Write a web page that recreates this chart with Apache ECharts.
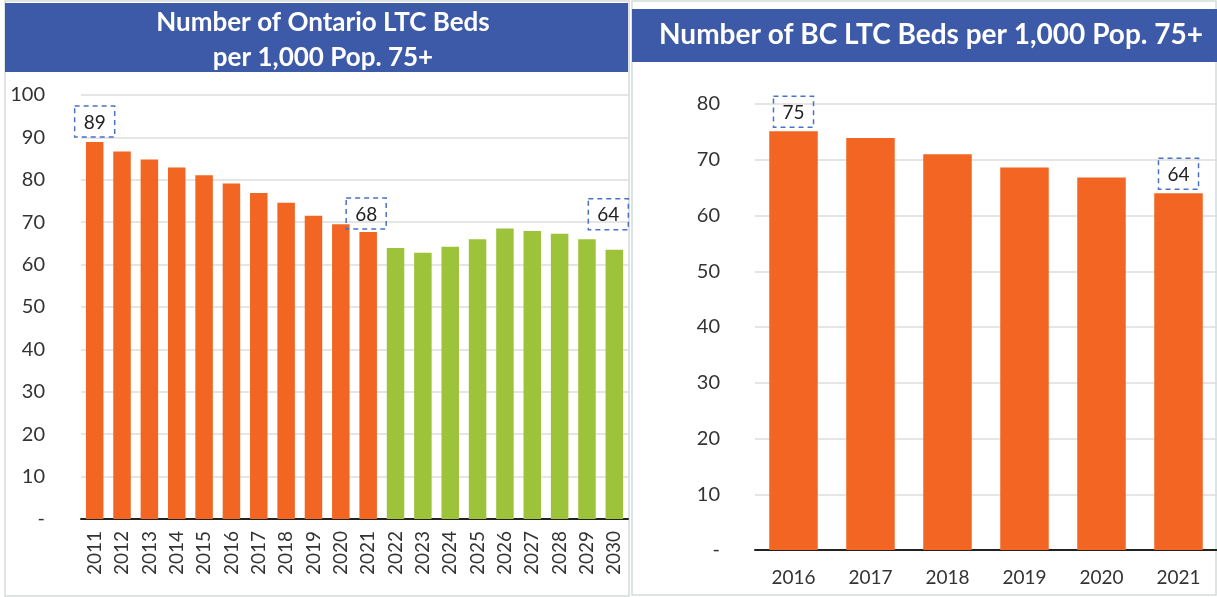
<!DOCTYPE html>
<html>
<head>
<meta charset="utf-8">
<script src="https://cdn.jsdelivr.net/npm/echarts@6/dist/echarts.min.js"></script>
<style>
  html, body { margin: 0; padding: 0; background: #fff; }
  #chart { width: 1217px; height: 597px; }
</style>
</head>
<body>
<div id="chart"></div>
<script>
// Ontario: actual years (orange) then projected years (green)
const ontYears = ['2011', '2012', '2013', '2014', '2015', '2016', '2017', '2018', '2019', '2020',
                  '2021', '2022', '2023', '2024', '2025', '2026', '2027', '2028', '2029', '2030'];
const ontActual = [88.9, 86.7, 84.8, 82.9, 81.1, 79.1, 76.9, 74.6, 71.5, 69.5, 67.7];
const ontProjected = [63.9, 62.8, 64.2, 66.0, 68.5, 67.9, 67.3, 66.0, 63.5];
const ontLabelled = ['2011', '2021', '2030'];

// BC
const bcYears = ['2016', '2017', '2018', '2019', '2020', '2021'];
const bcValues = [75.1, 73.9, 71.0, 68.6, 66.8, 64.0];
const bcLabelled = ['2016', '2021'];

const ORANGE = '#F26522';
const GREEN = '#9DC33B';
const BLUE = '#3D5AA8';
const FONT = 'Lato, "Open Sans", sans-serif';

// per-label tweaks (distance above bar, x offset)
const labelTweak = {
    ont2011: { distance: 5, offset: [0, 0] },
    ont2021: { distance: 3, offset: [-2, 0] },
    ont2030: { distance: 20, offset: [-6, 0] },
    bc2016: { distance: 4, offset: [0, 0] },
    bc2021: { distance: 4, offset: [0, 0] }
};

function boxLabel(tweak) {
    return {
        show: true,
        position: 'top',
        distance: tweak.distance,
        offset: tweak.offset,
        formatter: (p) => Math.round(p.value),
        color: '#222',
        fontFamily: FONT,
        fontSize: 19,
        borderColor: '#4A72C4',
        borderWidth: 1.5,
        borderType: [5, 4],
        padding: [7, 9, 5, 9]
    };
}

let ontValues = ontActual.concat(ontProjected);
let ontData = [];
for (let i = 0; i < ontYears.length; i++) {
    let item = {
        value: ontValues[i],
        itemStyle: { color: i < ontActual.length ? ORANGE : GREEN }
    };
    if (ontLabelled.indexOf(ontYears[i]) >= 0) {
        item.label = boxLabel(labelTweak['ont' + ontYears[i]]);
    }
    ontData.push(item);
}

let bcData = [];
for (let i = 0; i < bcYears.length; i++) {
    let item = { value: bcValues[i] };
    if (bcLabelled.indexOf(bcYears[i]) >= 0) {
        item.label = boxLabel(labelTweak['bc' + bcYears[i]]);
    }
    bcData.push(item);
}

function valueAxis(gridIndex, max, fontSize, margin) {
    return {
        type: 'value',
        gridIndex: gridIndex,
        min: 0,
        max: max,
        interval: 10,
        axisLine: { show: false },
        axisTick: { show: false },
        axisLabel: {
            color: '#333',
            fontFamily: FONT,
            fontSize: fontSize,
            margin: margin,
            formatter: (v) => v === 0 ? '-' : v
        },
        splitLine: { lineStyle: { color: '#dcdcdc', width: 1.5 } }
    };
}

const chart = echarts.init(document.getElementById('chart'), null, { renderer: 'canvas' });

chart.setOption({
    animation: false,
    textStyle: { fontFamily: FONT },
    graphic: [
        // panel frames
        { type: 'rect', shape: { x: 5, y: 1, width: 624, height: 595 },
          style: { fill: 'none', stroke: '#d3dcd8', lineWidth: 1.5 }, z: 0 },
        { type: 'rect', shape: { x: 632, y: 1, width: 584, height: 594 },
          style: { fill: 'none', stroke: '#d3dcd8', lineWidth: 1.5 }, z: 0 },
        // title bars
        { type: 'rect', shape: { x: 5, y: 3, width: 623, height: 69 },
          style: { fill: BLUE }, z: 1 },
        { type: 'rect', shape: { x: 632, y: 9, width: 585, height: 53 },
          style: { fill: BLUE }, z: 1 }
    ],
    title: [
        {
            text: 'Number of Ontario LTC Beds\nper 1,000 Pop. 75+',
            left: 318, top: 0, textAlign: 'center',
            textStyle: { color: '#fff', fontFamily: FONT, fontSize: 26, fontWeight: 'bold', lineHeight: 35 }
        },
        {
            text: 'Number of BC LTC Beds per 1,000 Pop. 75+',
            left: 926, top: 15, textAlign: 'center',
            textStyle: { color: '#fff', fontFamily: FONT, fontSize: 28, fontWeight: 'bold', lineHeight: 30 }
        }
    ],
    grid: [
        { left: 81, right: 589, top: 95, bottom: 78 },
        { left: 755, right: -6, top: 104, bottom: 47 }
    ],
    xAxis: [
        {
            type: 'category',
            gridIndex: 0,
            data: ontYears,
            axisTick: { show: false },
            axisLine: { lineStyle: { color: '#222', width: 2 } },
            axisLabel: { color: '#333', fontFamily: FONT, fontSize: 19, rotate: 90, margin: 12 }
        },
        {
            type: 'category',
            gridIndex: 1,
            data: bcYears,
            axisTick: { show: false },
            axisLine: { lineStyle: { color: '#222', width: 2 } },
            axisLabel: { color: '#333', fontFamily: FONT, fontSize: 19, margin: 18 }
        }
    ],
    yAxis: [
        valueAxis(0, 100, 20, 36),
        valueAxis(1, 80, 20, 35)
    ],
    series: [
        {
            type: 'bar',
            xAxisIndex: 0,
            yAxisIndex: 0,
            barWidth: '64%',
            data: ontData
        },
        {
            type: 'bar',
            xAxisIndex: 1,
            yAxisIndex: 1,
            barWidth: '63%',
            itemStyle: { color: ORANGE },
            data: bcData
        }
    ]
});
</script>
</body>
</html>
